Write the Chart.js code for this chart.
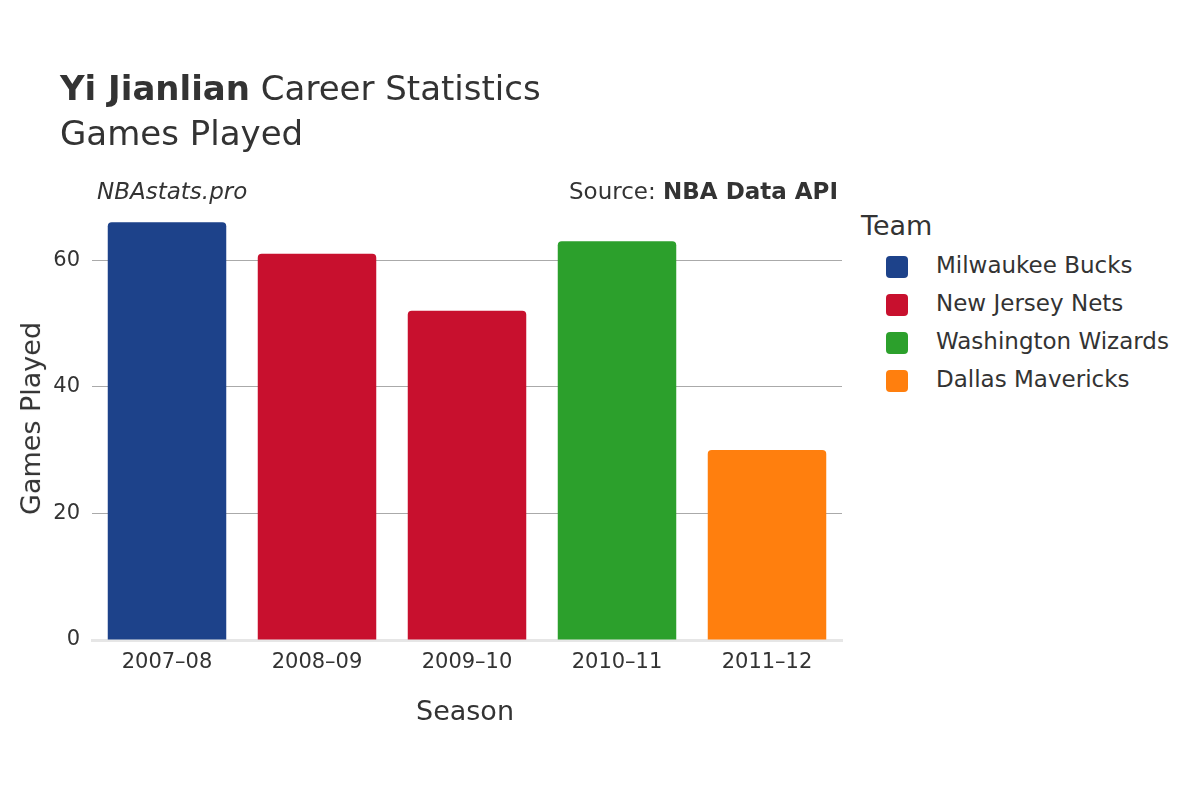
<!DOCTYPE html>
<html>
<head>
<meta charset="utf-8">
<script src="https://cdn.jsdelivr.net/npm/chart.js@4"></script>
<style>
  body { margin: 0; background: #fff; font-family: "DejaVu Sans", sans-serif; color: #333; }
  #wrap { position: relative; width: 1200px; height: 800px; }
  #box { position: absolute; left: 0; top: 0; width: 850px; height: 800px; }
  .t { position: absolute; white-space: nowrap; }
  .sw { display: inline-block; width: 22px; height: 22px; border-radius: 4px; vertical-align: middle; margin-right: 28px; }
  .li { position: absolute; left: 886px; font-size: 23px; }
</style>
</head>
<body>
<div id="wrap">
  <div id="box"><canvas id="chart"></canvas></div>
  <div class="t" style="left:60px;top:68px;font-size:34px;"><b>Yi Jianlian</b> Career Statistics</div>
  <div class="t" style="left:60px;top:113px;font-size:34px;">Games Played</div>
  <div class="t" style="left:97px;top:178px;font-size:23px;font-style:italic;">NBAstats.pro</div>
  <div class="t" style="right:362px;top:178px;font-size:23px;">Source: <b>NBA Data API</b></div>
  <div class="t" style="left:416px;top:695px;font-size:27px;">Season</div>
  <div class="t" style="left:-66px;top:403px;font-size:27px;transform:rotate(-90deg);">Games Played</div>
  <div class="t" style="left:861px;top:210px;font-size:27px;">Team</div>
  <div id="legend"></div>
</div>
<script>
const seasons = ['2007–08', '2008–09', '2009–10', '2010–11', '2011–12'];
const gamesPlayed = [66, 61, 52, 63, 30];
const seasonTeams = ['Milwaukee Bucks', 'New Jersey Nets', 'New Jersey Nets', 'Washington Wizards', 'Dallas Mavericks'];
const teams = ['Milwaukee Bucks', 'New Jersey Nets', 'Washington Wizards', 'Dallas Mavericks'];
const teamColors = ['#1d428a', '#c8102e', '#2ca02c', '#ff7f0e'];

const colorOf = name => teamColors[teams.indexOf(name)];

const legend = document.getElementById('legend');
teams.forEach((name, i) => {
  const d = document.createElement('div');
  d.className = 't li';
  d.style.top = (252 + i * 38) + 'px';
  d.innerHTML = '<span class="sw" style="background:' + teamColors[i] + '"></span>' + name;
  legend.appendChild(d);
});

const ctx = document.getElementById('chart').getContext('2d');
new Chart(ctx, {
  type: 'bar',
  data: {
    labels: seasons,
    datasets: [{
      data: gamesPlayed,
      backgroundColor: seasonTeams.map(colorOf),
      borderRadius: 4,
      borderSkipped: 'bottom',
      barPercentage: 0.79,
      categoryPercentage: 1
    }]
  },
  options: {
    responsive: true,
    maintainAspectRatio: false,
    animation: false,
    layout: { padding: { top: 200, right: 8, left: 0, bottom: 0 } },
    plugins: { legend: { display: false }, tooltip: { enabled: false } },
    scales: {
      x: {
        grid: { display: false },
        border: { color: '#e6e6e6', width: 3 },
        ticks: { color: '#333', font: { family: 'DejaVu Sans', size: 21 }, padding: 2 },
        afterFit: s => { s.height = 160; }
      },
      y: {
        min: 0,
        max: 69.5,
        grid: { color: ctx => ctx.tick.value === 0 ? 'rgba(0,0,0,0)' : '#aaa', lineWidth: 1, drawTicks: false },
        border: { display: false },
        ticks: { stepSize: 20, color: '#333', font: { family: 'DejaVu Sans', size: 21 }, padding: 12,
          callback: v => v % 20 === 0 ? v : null },
        afterFit: s => { s.width = 92; }
      }
    }
  }
});
</script>
</body>
</html>
